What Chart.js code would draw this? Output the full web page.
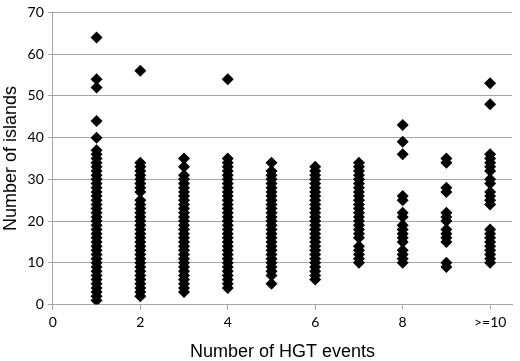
<!DOCTYPE html>
<html>
<head>
<meta charset="utf-8">
<script src="https://cdn.jsdelivr.net/npm/chart.js@4"></script>
<style>
  html, body { margin: 0; padding: 0; background: #fff; }
  #wrap { width: 520px; height: 361px; }
</style>
</head>
<body>
<div id="wrap"><canvas id="chart"></canvas></div>
<script>
// HGT event classes (x) and the island counts seen for each class (y)
const hgtEvents = [1, 2, 3, 4, 5, 6, 7, 8, 9, 10];
const xTicks = [0, 2, 4, 6, 8, 10];
const xTickLabels = ['0', '2', '4', '6', '8', '>=10'];

const islands1 = [64, 54, 52, 44, 40, 37, 36, 35, 34, 33, 32, 31, 30, 29, 28, 27, 26, 25, 24, 23, 22, 21, 20, 19, 18, 17, 16, 15, 14, 13, 12, 11, 10, 9, 8, 7, 6, 5, 4, 3, 2, 1];
const islands2 = [56, 34, 33, 32, 31, 30, 29, 28, 27, 25, 24, 23, 22, 21, 20, 19, 18, 17, 16, 15, 14, 13, 12, 11, 10, 9, 8, 7, 6, 5, 4, 3, 2];
const islands3 = [35, 33, 31, 30, 29, 28, 27, 26, 25, 24, 23, 22, 21, 20, 19, 18, 17, 16, 15, 14, 13, 12, 11, 10, 9, 8, 7, 6, 5, 4, 3];
const islands4 = [54, 35, 34, 33, 32, 31, 30, 29, 28, 27, 26, 25, 24, 23, 22, 21, 20, 19, 18, 17, 16, 15, 14, 13, 12, 11, 10, 9, 8, 7, 6, 5, 4];
const islands5 = [34, 32, 31, 30, 29, 28, 27, 26, 25, 24, 23, 22, 21, 20, 19, 18, 17, 16, 15, 14, 13, 12, 11, 10, 9, 8, 7, 5];
const islands6 = [33, 32, 31, 30, 29, 28, 27, 26, 25, 24, 23, 22, 21, 20, 19, 18, 17, 16, 15, 14, 13, 12, 11, 10, 9, 8, 7, 6];
const islands7 = [34, 33, 32, 31, 30, 29, 28, 27, 26, 25, 24, 23, 22, 21, 20, 19, 18, 17, 16, 14, 13, 12, 11, 10];
const islands8 = [43, 39, 36, 26, 25, 22, 21, 19, 18, 17, 16, 15, 13, 12, 11, 10];
const islands9 = [35, 34, 28, 27, 22, 21, 20, 18, 17, 16, 15, 10, 9];
const islands10 = [53, 48, 36, 35, 34, 33, 32, 30, 29, 27, 26, 25, 24, 18, 17, 16, 15, 14, 13, 12, 11, 10];

const islandsByClass = [islands1, islands2, islands3, islands4, islands5,
                        islands6, islands7, islands8, islands9, islands10];

const points = [];
hgtEvents.forEach((x, i) => {
    islandsByClass[i].forEach(y => points.push({x: x, y: y}));
});

const gridGray = '#a6a6a6';
const tickFont = {family: 'Lato, "Open Sans", sans-serif', size: 14};
const titleFont = {family: '"Liberation Sans", Arial, sans-serif', size: 18};

new Chart(document.getElementById('chart'), {
    type: 'scatter',
    data: {
        datasets: [{
            data: points,
            pointStyle: 'rectRot',
            pointRadius: 6,
            pointHoverRadius: 6,
            backgroundColor: '#000',
            borderColor: '#000',
            borderWidth: 0
        }]
    },
    options: {
        responsive: true,
        maintainAspectRatio: false,
        animation: false,
        layout: {padding: {top: -7, right: 8, left: 0, bottom: -2}},
        plugins: {
            legend: {display: false},
            tooltip: {enabled: false}
        },
        scales: {
            x: {
                type: 'linear',
                min: 0,
                max: 10.5,
                afterBuildTicks: axis => {
                    axis.ticks = xTicks.map(v => ({value: v}));
                },
                ticks: {
                    color: '#000',
                    font: tickFont,
                    maxRotation: 0,
                    padding: 4,
                    callback: (value) => xTickLabels[xTicks.indexOf(value)]
                },
                grid: {
                    drawOnChartArea: false,
                    color: gridGray,
                    tickLength: 5
                },
                border: {color: gridGray},
                title: {
                    display: true,
                    text: 'Number of HGT events',
                    color: '#000',
                    font: titleFont,
                    padding: {top: 7, bottom: 0}
                }
            },
            y: {
                min: 0,
                max: 70,
                ticks: {
                    stepSize: 10,
                    color: '#000',
                    font: tickFont,
                    padding: 4
                },
                grid: {
                    color: gridGray,
                    tickLength: 5
                },
                border: {color: gridGray},
                title: {
                    display: true,
                    text: 'Number of islands',
                    color: '#000',
                    font: titleFont,
                    padding: {top: 0, bottom: 2}
                }
            }
        }
    }
});
</script>
</body>
</html>
